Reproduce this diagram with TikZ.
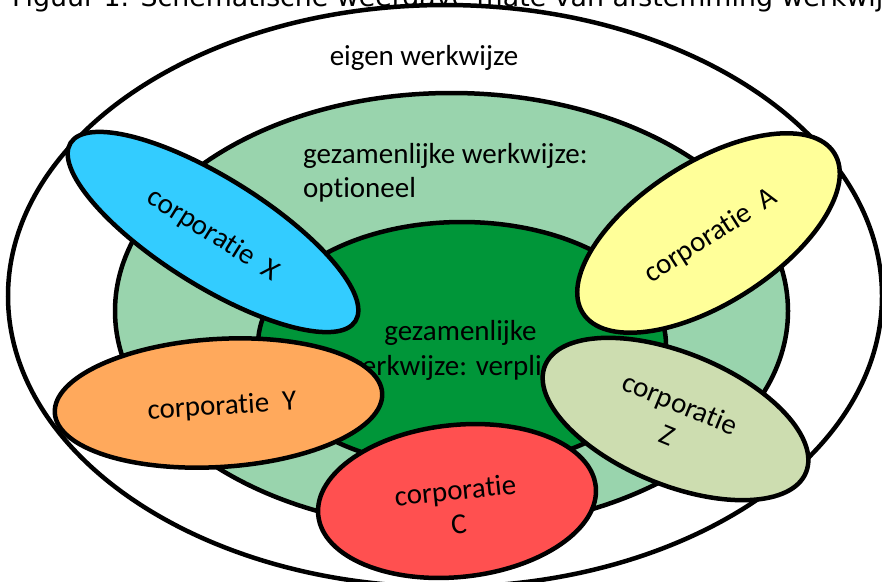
\documentclass[tikz,border=0pt]{standalone}
\usepackage{fontspec}
\setmainfont{Carlito}[Ligatures={NoCommon}]
\newfontfamily\titlefont{DejaVu Sans}
\usetikzlibrary{shapes.geometric}
\definecolor{outerfill}{HTML}{FFFFFF}
\definecolor{optgreen}{HTML}{99D4AD}
\definecolor{vergreen}{HTML}{009639}
\definecolor{corpX}{HTML}{33CCFF}
\definecolor{corpA}{HTML}{FFFF99}
\definecolor{corpY}{HTML}{FFA95C}
\definecolor{corpZ}{HTML}{CDDDB0}
\definecolor{corpC}{HTML}{FF5050}
\tikzset{
  ring/.style={draw=black, line width=4.5pt},
  corp/.style={ellipse, draw=black, line width=4.5pt, inner sep=0pt},
  lbl/.style={inner sep=0pt, font=\fontsize{29}{35}\selectfont, text=black},
  corplbl/.style={inner sep=0pt, font=\fontsize{29}{34}\selectfont, text=black, align=center}
}
\begin{document}
\begin{tikzpicture}[x=1pt,y=1pt]
\useasboundingbox (0,0) rectangle (882,-581);
\clip (0,0) rectangle (882,-581);
% title (cut off at the top)
\node[anchor=base west, inner sep=0pt, font=\titlefont\fontsize{26.8}{30}\selectfont] (title) at (12,-6) {Figuur 1. Schematische weergave mate van afstemming werkwijze};
% nested areas
\draw[ring, fill=outerfill] (445,-296) ellipse [x radius=437, y radius=291];
\draw[ring, fill=optgreen] (451.5,-311) ellipse [x radius=336.5, y radius=218];
\draw[ring, fill=vergreen] (462,-345) ellipse [x radius=204, y radius=123];
\node[lbl, anchor=base] (eigen) at (424,-65) {eigen werkwijze};
\node[lbl, anchor=base west] (opt1) at (303,-163) {gezamenlijke werkwijze:};
\node[lbl, anchor=base west] (opt2) at (303,-197) {optioneel};
\node[lbl, anchor=base] (ver1) at (460.5,-340) {gezamenlijke};
\node[lbl, anchor=base] (ver2) at (460,-375) {werkwijze: verplicht};
% corporations
\node[corp, fill=corpX, minimum width=336, minimum height=108, rotate=-32] (X) at (213,-232) {};
\node[corplbl, rotate=-32] (Xt) at (213,-235) {corporatie~~X};
\node[corp, fill=corpA, minimum width=298, minimum height=141, rotate=32.5] (A) at (708.5,-233) {};
\node[corplbl, rotate=32.5] (At) at (711,-236) {corporatie~~A};
\node[corp, fill=corpY, minimum width=328, minimum height=128, rotate=3.5] (Y) at (218.5,-403) {};
\node[corplbl, rotate=3.5] (Yt) at (222,-407) {corporatie~~Y};
\node[corp, fill=corpZ, minimum width=282, minimum height=132, rotate=-22.3] (Z) at (675.5,-419) {};
\node[corplbl, rotate=-22.3] (Zt) at (674,-419) {corporatie\\Z};
\node[corp, fill=corpC, minimum width=279, minimum height=152, rotate=5.9] (C) at (457,-501) {};
\node[corplbl, rotate=5.9] (Ct) at (457,-507) {corporatie\\C};
\end{tikzpicture}
\end{document}
